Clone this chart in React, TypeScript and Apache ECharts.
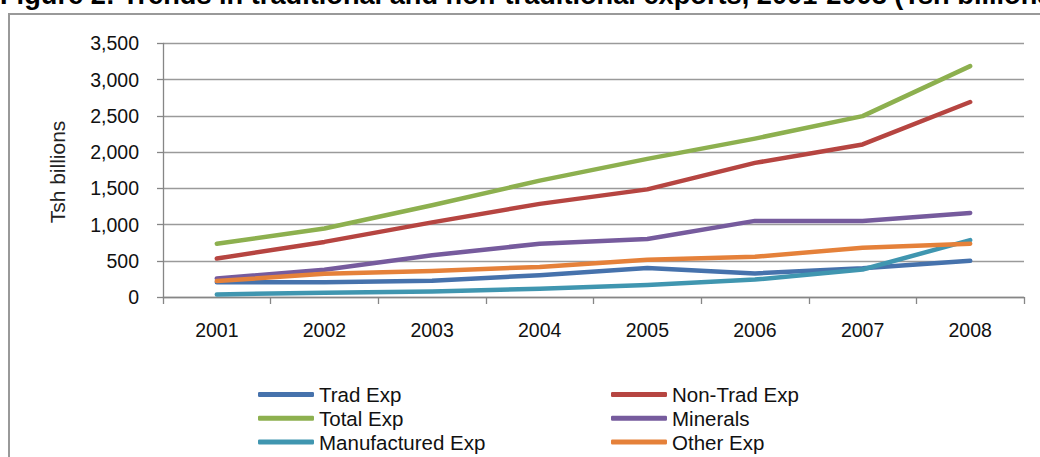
import React, { useEffect, useRef } from "react";
import * as echarts from "echarts";

const years = ["2001", "2002", "2003", "2004", "2005", "2006", "2007", "2008"];
const tradExp = [205, 205, 225, 300, 400, 325, 395, 500];
const nonTradExp = [530, 760, 1030, 1285, 1485, 1850, 2105, 2690];
const totalExp = [735, 945, 1265, 1605, 1905, 2185, 2495, 3185];
const minerals = [255, 375, 575, 735, 800, 1050, 1050, 1160];
const manufacturedExp = [35, 60, 75, 115, 165, 240, 380, 785];
const otherExp = [220, 320, 360, 415, 515, 555, 680, 735];

const yTicks = { min: 0, max: 3500, interval: 500 };

const FONT = "'Liberation Sans', Arial, sans-serif";

export default function App() {
  const ref = useRef<HTMLDivElement>(null);
  useEffect(() => {
    if (!ref.current) return;
    const chart = echarts.init(ref.current, undefined, { renderer: "svg" });
    const mk = (name: string, data: number[], color: string) => ({
      name,
      type: "line",
      data,
      showSymbol: false,
      symbol: "none",
      color,
      lineStyle: { width: 4.5, color, cap: "round", join: "round" },
    });
    const legendBase = {
      orient: "vertical",
      top: 384,
      height: 73,
      padding: 0,
      icon: "roundRect",
      itemWidth: 56,
      itemHeight: 5,
      itemGap: 2.8,
      textStyle: { fontSize: 20.5, fontFamily: FONT, color: "#111111", lineHeight: 20.5 },
      selectedMode: false,
    };
    chart.setOption({
      animation: false,
      backgroundColor: "#ffffff",
      textStyle: { fontFamily: FONT },
      graphic: [
        {
          type: "rect",
          shape: { x: 9, y: 14, width: 1100, height: 500 },
          style: { fill: "none", stroke: "#999999", lineWidth: 2 },
          silent: true,
        },
        {
          type: "text",
          x: 0,
          y: -5.5,
          style: {
            text: "Figure 2: Trends in traditional and non-traditional exports, 2001-2008 (Tsh billions)",
            font: `bold 27.2px ${FONT}`,
            fill: "#000000",
            verticalAlign: "middle",
            align: "left",
          },
        },
        {
          type: "text",
          x: 57,
          y: 172,
          rotation: Math.PI / 2,
          style: {
            text: "Tsh billions",
            font: `21px ${FONT}`,
            fill: "#222222",
            align: "center",
            verticalAlign: "middle",
          },
        },
      ],
      grid: { left: 163, top: 43.3, right: 16, bottom: 160, containLabel: false },
      xAxis: {
        type: "category",
        data: years,
        boundaryGap: true,
        axisLine: { show: true, lineStyle: { color: "#868686", width: 1.3 } },
        axisTick: { show: true, length: 7, interval: 0, lineStyle: { color: "#868686", width: 1.3 } },
        axisLabel: { color: "#111111", fontSize: 19.5, fontFamily: FONT, margin: 23, interval: 0 },
        splitLine: { show: false },
      },
      yAxis: {
        type: "value",
        min: yTicks.min,
        max: yTicks.max,
        interval: yTicks.interval,
        axisLine: { show: true, lineStyle: { color: "#868686", width: 1.3 } },
        axisTick: { show: true, length: 6, lineStyle: { color: "#868686", width: 1.3 } },
        axisLabel: {
          color: "#111111",
          fontSize: 19.5,
          fontFamily: FONT,
          margin: 24,
          formatter: (v: number) => v.toLocaleString("en-US"),
        },
        splitLine: { show: true, lineStyle: { color: "#9a9a9a", width: 1.3 } },
      },
      legend: [
        { ...legendBase, left: 258, data: ["Trad Exp", "Total Exp", "Manufactured Exp"] },
        { ...legendBase, left: 611, data: ["Non-Trad Exp", "Minerals", "Other Exp"] },
      ],
      series: [
        mk("Trad Exp", tradExp, "#4672AC"),
        mk("Non-Trad Exp", nonTradExp, "#B64541"),
        mk("Total Exp", totalExp, "#8DB04F"),
        mk("Minerals", minerals, "#765B9D"),
        mk("Manufactured Exp", manufacturedExp, "#4096B0"),
        mk("Other Exp", otherExp, "#E5813A"),
      ],
    });
    return () => chart.dispose();
  }, []);
  return (
    <div
      ref={ref}
      style={{ position: "absolute", left: 0, top: 0, width: 1040, height: 457 }}
    />
  );
}
